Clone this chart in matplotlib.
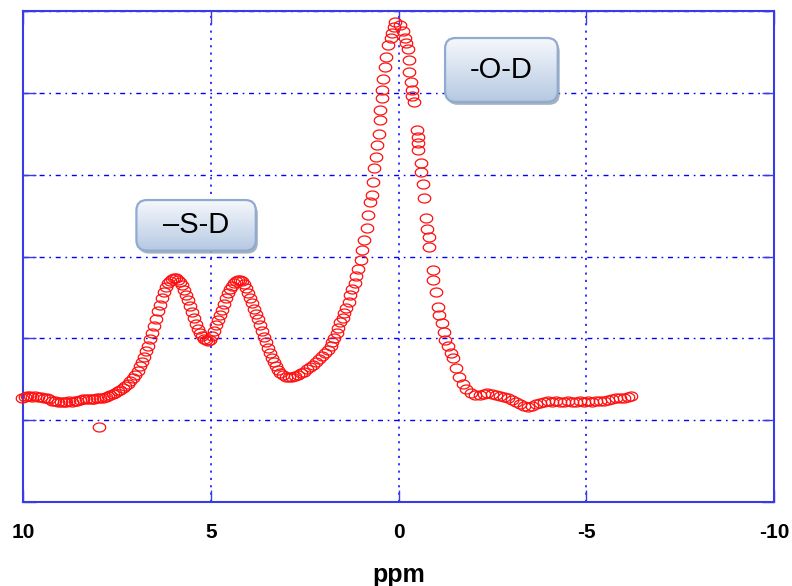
import numpy as np
import matplotlib.pyplot as plt
import matplotlib.transforms as mtransforms
from matplotlib.patches import FancyBboxPatch
from matplotlib.path import Path
from matplotlib.colors import LinearSegmentedColormap

plt.rcParams['font.family'] = ['Liberation Sans', 'DejaVu Sans']
plt.rcParams['axes.unicode_minus'] = False

# chemical shift (ppm) and intensity
ppm = [
    10.03, 9.96, 9.89, 9.82, 9.75, 9.67, 9.60, 9.52, 9.45, 9.37, 9.30, 9.22, 9.15, 9.07,
    9.00, 8.92, 8.85, 8.77, 8.70, 8.62, 8.55, 8.47, 8.40, 8.32, 8.25, 8.17, 8.10, 8.02,
    7.95, 7.87, 7.80, 7.74, 7.97,
    7.68, 7.61, 7.55, 7.48, 7.41, 7.35, 7.28, 7.21, 7.15, 7.08, 7.01, 6.95, 6.88, 6.83,
    6.77, 6.72, 6.67, 6.61, 6.56, 6.51, 6.45, 6.40, 6.35, 6.29, 6.24, 6.19, 6.13, 6.08,
    6.03, 5.97, 5.92, 5.87, 5.81, 5.76, 5.71, 5.65, 5.60, 5.55, 5.49, 5.44, 5.39, 5.33,
    5.28, 5.23, 5.17, 5.12, 5.07, 5.01, 4.96, 4.91, 4.85, 4.80, 4.75, 4.69, 4.64, 4.59,
    4.53, 4.48, 4.43, 4.37, 4.32, 4.27, 4.21, 4.16, 4.11, 4.05, 4.00, 3.95, 3.89, 3.84,
    3.79, 3.73, 3.68, 3.63, 3.57, 3.52, 3.47, 3.41, 3.36, 3.31, 3.25, 3.20, 3.15, 3.07,
    2.99, 2.91, 2.83, 2.75, 2.67, 2.59, 2.51, 2.43, 2.35, 2.27, 2.19, 2.11, 2.03, 1.95,
    1.87, 1.81, 1.76, 1.71, 1.65, 1.60, 1.55, 1.49, 1.44, 1.39, 1.33, 1.28, 1.23, 1.17,
    1.12, 1.07, 1.01, 0.96, 0.91, 0.85, 0.80, 0.75, 0.71, 0.67, 0.64, 0.61, 0.56, 0.53,
    0.49, 0.48, 0.45, 0.43, 0.40, 0.35, 0.32, 0.27, 0.21, 0.16, 0.13, 0.08,
    -0.03, -0.11, -0.16, -0.19, -0.24, -0.27, -0.28, -0.32, -0.35, -0.37, -0.40, -0.48,
    -0.51, -0.52, -0.53, -0.59, -0.60, -0.64, -0.67, -0.72, -0.77, -0.80, -0.81, -0.91,
    -0.93, -0.99, -1.04, -1.09, -1.15, -1.20, -1.25, -1.31, -1.39, -1.44, -1.52, -1.60,
    -1.71, -1.79, -1.92, -2.05, -2.16, -2.27, -2.37, -2.48, -2.59, -2.69, -2.80, -2.91,
    -3.01, -3.12, -3.23, -3.33, -3.44, -3.55, -3.65, -3.76, -3.87, -3.97, -4.08, -4.19,
    -4.29, -4.40, -4.51, -4.61, -4.72, -4.83, -4.93, -5.04, -5.15, -5.25, -5.36, -5.47,
    -5.57, -5.68, -5.79, -5.89, -6.00, -6.11, -6.19,
]
intensity = [
    1.27, 1.28, 1.29, 1.29, 1.28, 1.29, 1.28, 1.28, 1.27, 1.27, 1.26, 1.24, 1.23, 1.22,
    1.22, 1.22, 1.22, 1.23, 1.22, 1.23, 1.24, 1.25, 1.26, 1.26, 1.26, 1.26, 1.26, 1.27,
    1.27, 1.27, 1.28, 1.29, 0.92,
    1.31, 1.32, 1.33, 1.36, 1.37, 1.39, 1.42, 1.44, 1.48, 1.52, 1.55, 1.60, 1.66, 1.71,
    1.77, 1.85, 1.91, 1.99, 2.07, 2.15, 2.24, 2.34, 2.41, 2.49, 2.57, 2.63, 2.68, 2.70,
    2.73, 2.74, 2.74, 2.71, 2.69, 2.65, 2.59, 2.53, 2.47, 2.40, 2.32, 2.25, 2.18, 2.12,
    2.07, 2.03, 1.99, 1.98, 1.97, 1.98, 2.03, 2.09, 2.16, 2.23, 2.29, 2.35, 2.42, 2.49,
    2.56, 2.60, 2.64, 2.68, 2.70, 2.71, 2.71, 2.70, 2.67, 2.62, 2.56, 2.49, 2.43, 2.36,
    2.30, 2.24, 2.16, 2.09, 2.02, 1.96, 1.88, 1.82, 1.76, 1.71, 1.66, 1.61, 1.58, 1.55,
    1.53, 1.53, 1.53, 1.54, 1.55, 1.58, 1.59, 1.63, 1.65, 1.68, 1.71, 1.75, 1.79, 1.82,
    1.86, 1.91, 1.96, 2.01, 2.07, 2.13, 2.20, 2.25, 2.31, 2.37, 2.45, 2.53, 2.60, 2.68,
    2.76, 2.85, 2.96, 3.08, 3.20, 3.35, 3.51, 3.66, 3.75, 3.91, 4.08, 4.22, 4.36, 4.50,
    4.67, 4.79, 4.94, 5.04, 5.17, 5.32, 5.44, 5.58, 5.67, 5.73, 5.80, 5.87,
    5.83, 5.75, 5.67, 5.61, 5.53, 5.40, 5.26, 5.13, 5.04, 4.96, 4.89, 4.55,
    4.46, 4.39, 4.30, 4.14, 4.03, 3.88, 3.72, 3.47, 3.33, 3.24, 3.12, 2.84,
    2.71, 2.57, 2.38, 2.29, 2.19, 2.08, 1.98, 1.91, 1.82, 1.76, 1.64, 1.53,
    1.44, 1.38, 1.33, 1.31, 1.31, 1.32, 1.33, 1.32, 1.31, 1.30, 1.28, 1.27,
    1.25, 1.22, 1.20, 1.17, 1.16, 1.17, 1.20, 1.21, 1.22, 1.23, 1.22, 1.23,
    1.22, 1.22, 1.23, 1.22, 1.22, 1.23, 1.22, 1.23, 1.22, 1.23, 1.24, 1.24,
    1.25, 1.26, 1.27, 1.27, 1.27, 1.28, 1.30,
]

x_ticks = [10, 5, 0, -5, -10]
box_labels = ['-O-D', '\u2013S-D']

frame_col = '#3a3ae8'

fig = plt.figure(figsize=(7.92, 5.86), dpi=100)
ax = fig.add_axes([23 / 792, 84 / 586, 751 / 792, 491 / 586])

# open ellipse marker, like the original instrument plot
t = np.linspace(0, 2 * np.pi, 41)
ellipse = Path(np.column_stack([np.cos(t), 0.72 * np.sin(t)]))
ax.plot(ppm, intensity, linestyle='none', marker=ellipse, ms=9.0,
        mfc='none', mec='#ff1010', mew=0.9, zorder=3, clip_on=False)

# annotation boxes with a soft blue gradient and a drop shadow
aspect = ax.bbox.width / ax.bbox.height
cmap = LinearSegmentedColormap.from_list('boxgrad', ['#f6f8fc', '#b5c9e2'])
grad = np.linspace(0, 1, 100).reshape(-1, 1)
boxes = [(0.562, 0.815, 0.150, 0.130), (0.151, 0.512, 0.159, 0.103)]
for (x0, y0, w, h), label in zip(boxes, box_labels):
    style = 'round,pad=0,rounding_size=0.014'
    shadow = FancyBboxPatch((x0, y0), w, h, boxstyle=style, mutation_aspect=aspect,
                            transform=mtransforms.offset_copy(ax.transAxes, fig=fig, x=2, y=-3, units='dots'),
                            fc='#8a97a9', ec='none', alpha=0.75, zorder=4)
    ax.add_patch(shadow)
    box = FancyBboxPatch((x0, y0), w, h, boxstyle=style, mutation_aspect=aspect,
                         transform=ax.transAxes, fc='none', ec='#90abd0', lw=1.6, zorder=6)
    ax.add_patch(box)
    im = ax.imshow(grad, cmap=cmap, extent=[x0, x0 + w, y0, y0 + h], transform=ax.transAxes,
                   aspect='auto', origin='upper', interpolation='bilinear', zorder=5)
    im.set_clip_path(box)
    ax.text(x0 + w / 2, y0 + h / 2, label, transform=ax.transAxes, ha='center', va='center',
            fontsize=21, color='black', zorder=7)

ax.set_xlim(10, -10)
ax.set_ylim(0, 6)
ax.set_xticks(x_ticks)
ax.set_yticks(range(7))

ax.yaxis.grid(True, color='#0000ff', linestyle=(0, (3.6, 3.4, 1.2, 3.4)), linewidth=1.0)
ax.xaxis.grid(True, color='#0000ff', linestyle=(0, (1.4, 3.4)), linewidth=1.1)
ax.set_axisbelow(True)

for spine in ax.spines.values():
    spine.set_color(frame_col)
    spine.set_linewidth(1.5)

ax.tick_params(axis='both', direction='in', length=9, width=1, color=frame_col,
               top=True, right=True)
ax.tick_params(axis='y', labelleft=False)
ax.tick_params(axis='x', pad=15, labelsize=15)
for lbl in ax.get_xticklabels():
    lbl.set_fontweight('bold')

ax.set_xlabel('ppm', fontsize=18, fontweight='bold', labelpad=15)

fig.savefig('out.png', dpi=100)
